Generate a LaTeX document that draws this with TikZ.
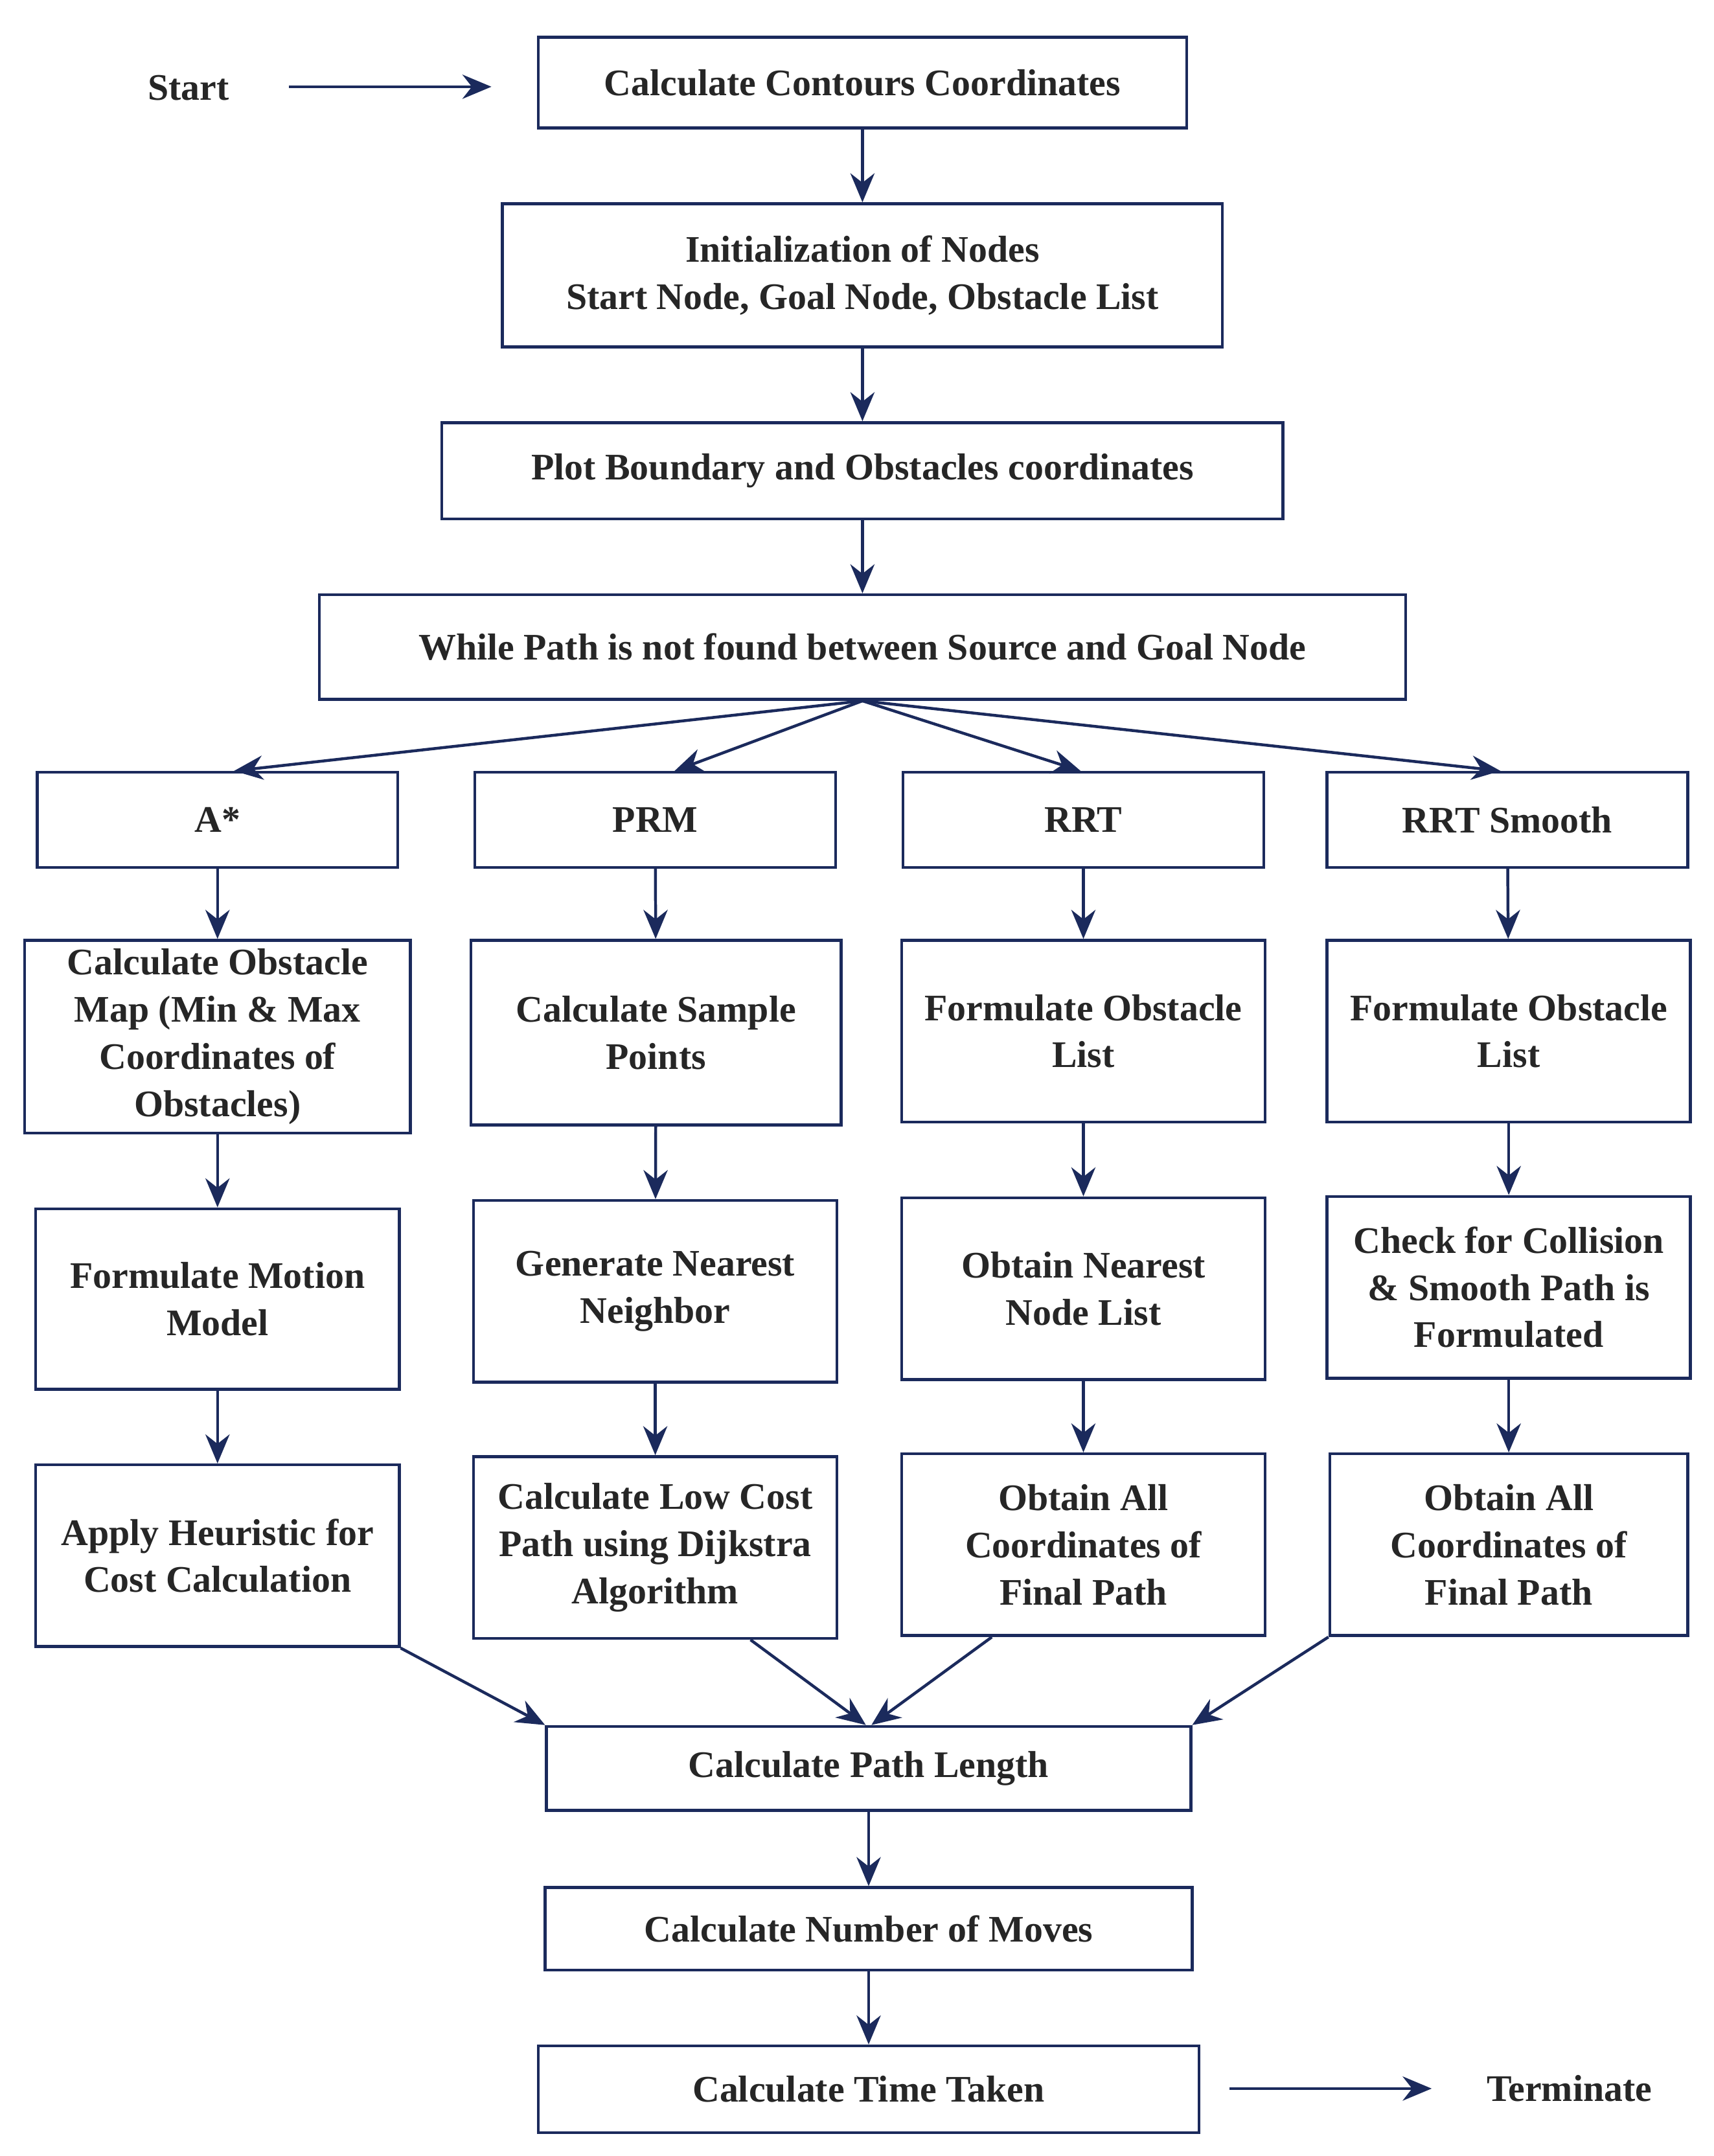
\documentclass[tikz,border=0pt]{standalone}
\usepackage{fontspec}
\setmainfont{Liberation Serif}
\usetikzlibrary{arrows.meta,calc}
\definecolor{navy}{HTML}{1B2A5C}
\begin{document}
\begin{tikzpicture}[x=0.02cm,y=-0.02cm,
 box/.style={draw=navy,line width=1.2pt,inner sep=0pt,align=center,font=\bfseries\fontsize{15.5}{19.5}\selectfont,text=black!85},
 arr/.style={draw=navy,line width=1.2pt,-{Stealth[length=12pt,width=10pt]}},
 lbl/.style={font=\bfseries\fontsize{15.5}{19.5}\selectfont,text=black!85}]
\useasboundingbox (0,0) rectangle (1245,1566);
\newcommand{\bx}[6]{\node[box,minimum width={(#4-#2)*0.02cm},minimum height={(#5-#3)*0.02cm}] (#1) at ({(#2+#4)/2},{(#3+#5)/2}) {#6};}
\bx{c}{391}{27}{862}{93}{Calculate Contours Coordinates}
\bx{in}{365}{148}{888}{252}{Initialization of Nodes\\Start Node, Goal Node, Obstacle List}
\bx{pb}{321}{307}{932}{377}{Plot Boundary and Obstacles coordinates}
\bx{wh}{232}{432}{1021}{508}{While Path is not found between Source and Goal Node}
\bx{a1}{27}{561}{289}{630}{A*}
\bx{p1}{345}{561}{607}{630}{PRM}
\bx{r1}{656}{561}{918}{630}{RRT}
\bx{s1}{964}{561}{1226}{630}{RRT Smooth}
\bx{a2}{18}{683}{298}{823}{Calculate Obstacle\\Map (Min \& Max\\Coordinates of\\Obstacles)}
\bx{p2}{342}{683}{611}{817}{Calculate Sample\\Points}
\bx{r2}{655}{683}{919}{815}{Formulate Obstacle\\List}
\bx{s2}{964}{683}{1228}{815}{Formulate Obstacle\\List}
\bx{a3}{26}{878}{290}{1009}{Formulate Motion\\Model}
\bx{p3}{344}{872}{608}{1004}{Generate Nearest\\Neighbor}
\bx{r3}{655}{870}{919}{1002}{Obtain Nearest\\Node List}
\bx{s3}{964}{869}{1228}{1001}{Check for Collision\\\& Smooth Path is\\Formulated}
\bx{a4}{26}{1064}{290}{1196}{Apply Heuristic for\\Cost Calculation}
\bx{p4}{344}{1058}{608}{1190}{Calculate Low Cost\\Path using Dijkstra\\Algorithm}
\bx{r4}{655}{1056}{919}{1188}{Obtain All\\Coordinates of\\Final Path}
\bx{s4}{966}{1056}{1226}{1188}{Obtain All\\Coordinates of\\Final Path}
\bx{pl}{397}{1254}{865}{1315}{Calculate Path Length}
\bx{mv}{396}{1371}{866}{1431}{Calculate Number of Moves}
\bx{tt}{391}{1486}{871}{1549}{Calculate Time Taken}
\node[lbl] (st) at (137,64) {Start};
\node[lbl] (te) at (1140,1517) {Terminate};
\coordinate (sa) at (210,63); \coordinate (sb) at (357,63);
\coordinate (ta) at (893,1517); \coordinate (tb) at (1040,1517);
\draw[arr] (sa) -- (sb);
\draw[arr] (ta) -- (tb);
\draw[arr] (c) -- (in);
\draw[arr] (in) -- (pb);
\draw[arr] (pb) -- (wh);
\foreach \n/\d in {a1/12,p1/14,r1/-2,s1/-5}
  \draw[arr] (wh.south) -- ([xshift=\d*0.02cm]\n.north);
\foreach \c in {a,p,r,s}{
  \draw[arr] (\c1) -- (\c2);
  \draw[arr] (\c2) -- (\c3);
  \draw[arr] (\c3) -- (\c4);}
\draw[arr] (a4.south east) -- (pl.north west);
\draw[arr] ($(p4.south west)!0.76!(p4.south east)$) -- ([xshift=-2*0.02cm]pl.north);
\draw[arr] ($(r4.south west)!0.25!(r4.south east)$) -- ([xshift=2*0.02cm]pl.north);
\draw[arr] (s4.south west) -- (pl.north east);
\draw[arr] (pl) -- (mv);
\draw[arr] (mv) -- (tt);
\end{tikzpicture}
\end{document}
